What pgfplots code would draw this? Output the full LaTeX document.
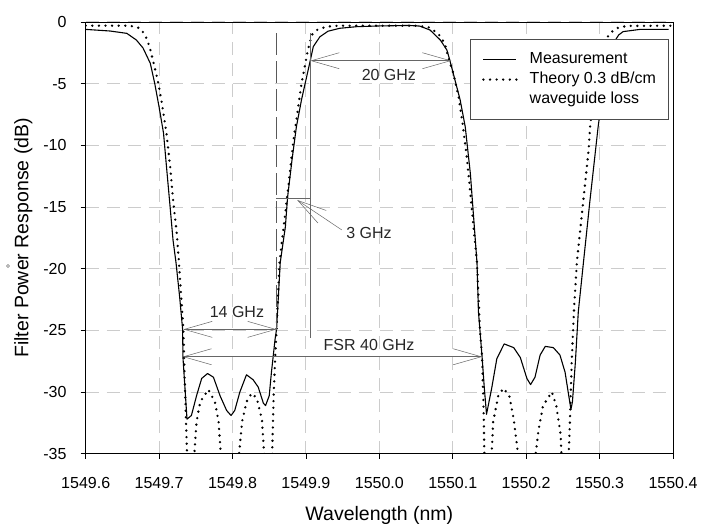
\documentclass[border=0pt]{standalone}
\usepackage{fontspec}
\setmainfont{Liberation Sans}
\usepackage{pgfplots}
\usepackage{pgfplotstable}
\pgfplotsset{compat=1.18}
\usetikzlibrary{arrows.meta}

\pgfplotstableread{
x y
1549.600 -0.60
1549.633 -0.73
1549.656 -0.92
1549.669 -1.46
1549.678 -2.10
1549.688 -3.35
1549.694 -4.97
1549.700 -6.90
1549.706 -9.00
1549.710 -11.7
1549.715 -15.0
1549.719 -17.7
1549.723 -19.5
1549.728 -22.3
1549.732 -24.9
1549.7325 -27.2
1549.738 -32.2
1549.744 -31.9
1549.751 -30.3
1549.758 -28.9
1549.766 -28.5
1549.774 -28.8
1549.783 -30.3
1549.792 -31.5
1549.798 -31.9
1549.803 -31.5
1549.810 -30.0
1549.819 -28.6
1549.828 -29.0
1549.835 -29.6
1549.842 -30.9
1549.845 -31.1
1549.850 -30.3
1549.853 -28.4
1549.858 -25.7
1549.860 -24.9
1549.865 -19.5
1549.872 -16.6
1549.875 -14.2
1549.881 -11.2
1549.887 -8.5
1549.894 -6.3
1549.900 -4.7
1549.906 -3.1
1549.910 -2.0
1549.919 -1.2
1549.930 -0.75
1549.946 -0.51
1549.969 -0.38
1550.000 -0.32
1550.040 -0.28
1550.055 -0.33
1550.069 -0.65
1550.083 -1.46
1550.092 -2.27
1550.096 -3.1
1550.103 -4.7
1550.110 -6.3
1550.117 -8.5
1550.124 -12.3
1550.130 -17.1
1550.133 -19.5
1550.135 -23.5
1550.140 -27.2
1550.143 -29.7
1550.146 -31.8
1550.153 -29.7
1550.160 -27.3
1550.170 -26.1
1550.183 -26.4
1550.192 -27.2
1550.201 -28.9
1550.206 -29.4
1550.212 -28.8
1550.219 -27.0
1550.226 -26.3
1550.237 -26.4
1550.246 -27.0
1550.253 -28.4
1550.258 -30.3
1550.261 -31.4
1550.263 -30.8
1550.267 -27.6
1550.271 -23.5
1550.278 -19.5
1550.287 -14.4
1550.298 -8.5
1550.306 -5.0
1550.312 -3.0
1550.318 -1.8
1550.326 -1.05
1550.332 -0.78
1550.355 -0.60
1550.394 -0.60
}\meas

\pgfplotstableread{
x y
1549.600 -0.30
1549.660 -0.30
1549.674 -0.50
1549.681 -1.05
1549.687 -2.0
1549.692 -3.2
1549.698 -4.7
1549.703 -6.3
1549.710 -9.0
1549.715 -11.7
1549.719 -14.4
1549.724 -17.1
1549.727 -19.5
1549.733 -24.9
1549.734 -27.2
1549.738 -35
1549.743 -50
1549.748 -35
1549.751 -32.4
1549.756 -30.8
1549.767 -29.8
1549.776 -30.8
1549.781 -32.4
1549.784 -35
1549.796 -50
1549.809 -35
1549.813 -32.4
1549.819 -30.8
1549.826 -30.1
1549.833 -30.5
1549.840 -32.2
1549.843 -35
1549.848 -50
1549.854 -35
1549.856 -30.3
1549.858 -27.3
1549.860 -24.9
1549.864 -19.5
1549.874 -14.4
1549.883 -9.6
1549.894 -5.0
1549.900 -3.1
1549.903 -2.2
1549.908 -1.05
1549.915 -0.65
1549.928 -0.38
1549.945 -0.30
1550.051 -0.30
1550.067 -0.43
1550.080 -0.92
1550.089 -1.73
1550.095 -3.1
1550.101 -4.2
1550.108 -6.1
1550.114 -8.5
1550.119 -10.9
1550.124 -13.9
1550.129 -17.1
1550.133 -19.5
1550.137 -24.9
1550.140 -27.2
1550.142 -31.4
1550.143 -35
1550.148 -50
1550.153 -35
1550.155 -32.4
1550.162 -30.3
1550.169 -29.7
1550.177 -30.3
1550.183 -32.2
1550.188 -34.6
1550.189 -35
1550.201 -50
1550.213 -35
1550.217 -33.0
1550.223 -31.1
1550.235 -30.0
1550.241 -31.1
1550.247 -33.5
1550.248 -35
1550.253 -50
1550.258 -35
1550.260 -31.6
1550.262 -27.6
1550.265 -23.5
1550.269 -19.5
1550.278 -14.4
1550.285 -10.4
1550.287 -8.5
1550.292 -6.0
1550.297 -4.0
1550.302 -2.6
1550.308 -1.5
1550.314 -0.92
1550.323 -0.51
1550.337 -0.32
1550.400 -0.30
}\theory

\tikzset{
  annot/.style={draw=black!60, line width=0.5pt},
  bb/.style={arrows={Straight Barb[length=28pt,width=16pt]-Straight Barb[length=28pt,width=16pt]}},
  eb/.style={arrows={-Straight Barb[length=29pt,width=15pt]}},
  lbl/.style={font=\fontsize{16}{19}\selectfont, text=black!85, inner sep=0pt, anchor=center}
}

\begin{document}
\begin{tikzpicture}
\begin{axis}[
  width=587.3pt, height=431.7pt, scale only axis,
  xmin=1549.6, xmax=1550.4, ymin=-35, ymax=0,
  xtick={1549.6,1549.7,1549.8,1549.9,1550.0,1550.1,1550.2,1550.3,1550.4},
  xticklabels={1549.6,1549.7,1549.8,1549.9,1550.0,1550.1,1550.2,1550.3,1550.4},
  ytick={-35,-30,-25,-20,-15,-10,-5,0},
  yticklabels={-35,-30,-25,-20,-15,-10,-5,0},
  tick align=outside, major tick length=5pt,
  xtick pos=left, ytick pos=left,
  tick style={black, line width=0.8pt},
  axis line style={black, line width=0.8pt},
  xticklabel style={anchor=center, inner sep=0pt, yshift=-23.8pt, font=\fontsize{16}{18}\selectfont},
  yticklabel style={anchor=east, inner sep=0pt, xshift=-14pt, font=\fontsize{16}{18}\selectfont},
  grid=major,
  major grid style={gray!40, line width=1pt, dash pattern=on 13pt off 8pt},
  xlabel={Wavelength (nm)},
  ylabel={Filter Power Response (dB)},
  xlabel style={at={(axis description cs:0.5,-0.1559)}, anchor=base, font=\fontsize{19.5}{22}\selectfont},
  ylabel style={at={(axis description cs:-0.0977,0.5)}, anchor=base, font=\fontsize{19.5}{22}\selectfont},
  legend style={at={(0.992,0.960)}, anchor=north east, draw=black!70, line width=0.6pt, fill=white,
    font=\fontsize{16}{19}\selectfont, inner xsep=12pt, inner ysep=11pt, row sep=2pt, column sep=12pt,
    nodes={inner ysep=1.5pt, inner xsep=0pt, text height=11.5pt, text depth=3.5pt}},
  legend cell align=left,
  legend image code/.code={\draw[#1] (0pt,0pt) -- (33pt,0pt);},
]
\addplot[black, line width=1.1pt, line join=round, mark=none] table {\meas};
\addlegendentry{Measurement}
\addplot[black, line width=2.6pt, line cap=round, dash pattern=on 0pt off 6.6pt, mark=none] table {\theory};
\addlegendentry{Theory 0.3 dB/cm}
\addlegendimage{empty legend}
\addlegendentry{waveguide loss}

% annotations
\addplot[annot, forget plot, dash pattern=on 22pt off 6pt, draw=black!65] coordinates {(1549.859,-0.9) (1549.859,-25.0)};
\addplot[annot, forget plot] coordinates {(1549.906,-0.9) (1549.906,-25.6)};
\addplot[annot, forget plot] coordinates {(1549.859,-14.3) (1549.906,-14.3)};
\addplot[annot, forget plot, bb] coordinates {(1549.906,-3.14) (1550.098,-3.14)};
\addplot[annot, forget plot, bb] coordinates {(1549.733,-24.92) (1549.860,-24.92)};
\addplot[annot, forget plot, bb] coordinates {(1549.732,-27.14) (1550.140,-27.14)};
\addplot[annot, forget plot, eb] coordinates {(1549.9488,-16.86) (1549.888,-14.43)};

\node[lbl] at (axis cs:1550.013,-4.30) {20 GHz};
\node[lbl] at (axis cs:1549.986,-17.08) {3 GHz};
\node[lbl] at (axis cs:1549.806,-23.49) {14 GHz};
\node[lbl] at (axis cs:1549.986,-26.15) {FSR 40 GHz};

\coordinate (SW) at (rel axis cs:0,0);
\coordinate (NE) at (rel axis cs:1,1);
\end{axis}
\draw[black!55, line width=0.4pt] ([shift={(-77.7pt,187.7pt)}]SW) circle (1.5pt);
\pgfresetboundingbox
\path[use as bounding box] ([shift={(-85.7pt,-70.3pt)}]SW) rectangle ([shift={(28pt,22pt)}]NE);
\end{tikzpicture}
\end{document}
